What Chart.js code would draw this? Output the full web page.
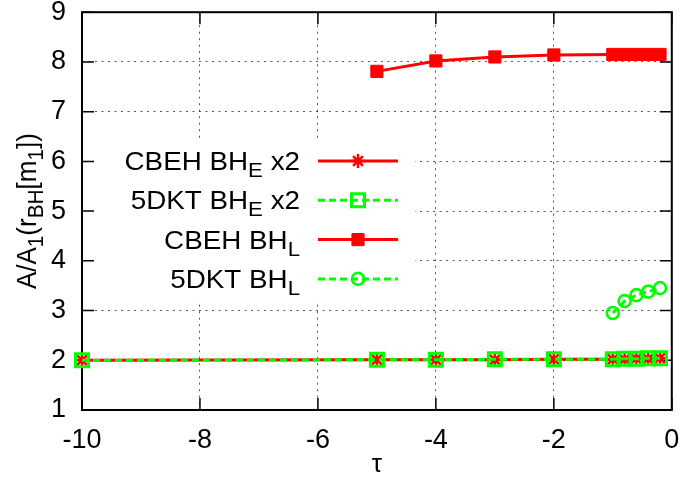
<!DOCTYPE html>
<html>
<head>
<meta charset="utf-8">
<script src="https://cdn.jsdelivr.net/npm/chart.js@4.4.0/dist/chart.umd.min.js"></script>
<style>
  html, body { margin: 0; padding: 0; background: #fff; }
  canvas { display: block; }
</style>
</head>
<body>
<canvas id="chart" width="684" height="484"></canvas>
<script>
// data
const tauE = [-10, -5, -4, -3, -2, -1, -0.8, -0.6, -0.4, -0.2];
const cbehE = [2.00, 2.01, 2.01, 2.01, 2.02, 2.02, 2.02, 2.03, 2.03, 2.04];
const dktE = [2.00, 2.01, 2.01, 2.02, 2.02, 2.02, 2.03, 2.03, 2.04, 2.04];

const tauCbehL = [-5, -4, -3, -2, -1, -0.8, -0.6, -0.4, -0.2];
const cbehL = [7.81, 8.02, 8.10, 8.14, 8.15, 8.15, 8.15, 8.15, 8.15];

const tauDktL = [-1, -0.8, -0.6, -0.4, -0.2];
const dktL = [2.95, 3.19, 3.31, 3.38, 3.45];

const xTicks = [-10, -8, -6, -4, -2, 0];
const yTicks = [1, 2, 3, 4, 5, 6, 7, 8, 9];

// text pieces: [text, isSubscript]
const legendLabels = [
    [['CBEH BH', false], ['E', true], [' x2', false]],
    [['5DKT BH', false], ['E', true], [' x2', false]],
    [['CBEH BH', false], ['L', true]],
    [['5DKT BH', false], ['L', true]]
];
const yTitle = [['A/A', false], ['1', true], ['(r', false], ['BH', true], ['[m', false], ['1', true], ['])', false]];
const xTitle = 'τ';

const FONT = '"Liberation Sans", Arial, Helvetica, sans-serif';
const SIZE = 26;
const STRETCH = 1.069; // the original text is a bit wider than it is tall
const RED = '#ff0000';
const GREEN = '#00ff00';

function pts(xs, ys) {
    return xs.map((x, i) => ({ x: x, y: ys[i] }));
}

const styles = [
    { color: RED, dash: [], pointStyle: 'star', radius: 7, pointBorder: 2.5, fill: RED },
    { color: GREEN, dash: [7, 4], pointStyle: 'rect', radius: 9.2, pointBorder: 3, fill: 'rgba(0,0,0,0)' },
    { color: RED, dash: [], pointStyle: 'rect', radius: 8.6, pointBorder: 1, fill: RED },
    { color: GREEN, dash: [7, 4], pointStyle: 'circle', radius: 6, pointBorder: 2.6, fill: 'rgba(0,0,0,0)' }
];
const series = [pts(tauE, cbehE), pts(tauE, dktE), pts(tauCbehL, cbehL), pts(tauDktL, dktL)];

function richWidth(ctx, parts) {
    let w = 0;
    parts.forEach(p => {
        ctx.font = (p[1] ? SIZE * 0.8 : SIZE) + 'px ' + FONT;
        w += ctx.measureText(p[0]).width;
    });
    return w;
}

// draws text with subscripts, sx/sy stretch the glyphs
function drawRich(ctx, parts, x, y, sx, sy) {
    ctx.save();
    ctx.translate(x, y);
    ctx.scale(sx, sy);
    ctx.textBaseline = 'alphabetic';
    ctx.textAlign = 'left';
    let cx = 0;
    parts.forEach(p => {
        ctx.font = (p[1] ? SIZE * 0.8 : SIZE) + 'px ' + FONT;
        ctx.fillText(p[0], cx, p[1] ? 7 : 0);
        cx += ctx.measureText(p[0]).width;
    });
    ctx.restore();
}

function marker(ctx, st, x, y) {
    ctx.save();
    ctx.setLineDash([]);
    ctx.strokeStyle = st.color;
    ctx.fillStyle = st.fill;
    ctx.lineWidth = st.pointBorder;
    Chart.helpers.drawPoint(ctx, { pointStyle: st.pointStyle, radius: st.radius, rotation: 0, borderWidth: st.pointBorder }, x, y);
    ctx.restore();
}

const frame = {
    id: 'frame',
    beforeDatasetsDraw(chart) {
        const { ctx, chartArea: a, scales } = chart;
        ctx.save();
        // opaque key area
        ctx.fillStyle = '#fff';
        ctx.fillRect(a.left, 138, 415 - a.left, 162);
        ctx.strokeStyle = '#000';
        ctx.lineWidth = 1.5;
        ctx.beginPath();
        xTicks.forEach(v => {
            const px = scales.x.getPixelForValue(v);
            ctx.moveTo(px, a.bottom); ctx.lineTo(px, a.bottom - 12);
            ctx.moveTo(px, a.top); ctx.lineTo(px, a.top + 12);
        });
        yTicks.forEach(v => {
            const py = scales.y.getPixelForValue(v);
            ctx.moveTo(a.left, py); ctx.lineTo(a.left + 12, py);
            ctx.moveTo(a.right, py); ctx.lineTo(a.right - 12, py);
        });
        ctx.stroke();
        ctx.lineWidth = 2;
        ctx.strokeRect(a.left, a.top, a.right - a.left, a.bottom - a.top);
        ctx.restore();
    },
    afterDraw(chart) {
        const { ctx, chartArea: a } = chart;
        ctx.save();
        ctx.fillStyle = '#000';
        legendLabels.forEach((parts, i) => {
            const rowY = 161 + i * 39.3;
            const w = richWidth(ctx, parts) * STRETCH;
            drawRich(ctx, parts, 300 - w, rowY + 9, STRETCH, 1);
            const st = styles[i];
            ctx.strokeStyle = st.color;
            ctx.lineWidth = 3;
            ctx.setLineDash(st.dash);
            ctx.beginPath();
            ctx.moveTo(318, rowY);
            ctx.lineTo(398, rowY);
            ctx.stroke();
            marker(ctx, st, 358, rowY);
            ctx.fillStyle = '#000';
        });
        // rotated y title
        ctx.translate(36, (a.top + a.bottom) / 2);
        ctx.rotate(-Math.PI / 2);
        const tw = richWidth(ctx, yTitle);
        drawRich(ctx, yTitle, -tw / 2, 0, 1, STRETCH);
        ctx.restore();
    }
};

new Chart(document.getElementById('chart'), {
    type: 'line',
    data: {
        datasets: series.map((d, i) => ({
            data: d,
            borderColor: styles[i].color,
            borderWidth: 3,
            borderDash: styles[i].dash,
            pointStyle: styles[i].pointStyle,
            pointRadius: styles[i].radius,
            pointBorderWidth: styles[i].pointBorder,
            pointBorderColor: styles[i].color,
            pointBackgroundColor: styles[i].fill,
            tension: 0,
            fill: false,
            clip: false,
            order: 4 - i
        }))
    },
    options: {
        responsive: false,
        animation: false,
        events: [],
        layout: { padding: { top: 12, right: 11, bottom: 0, left: 0 } },
        plugins: { legend: { display: false }, tooltip: { enabled: false } },
        scales: {
            x: {
                type: 'linear',
                min: -10,
                max: 0,
                afterBuildTicks: s => { s.ticks = xTicks.map(v => ({ value: v })); },
                afterFit: s => { s.height = 74; s.paddingLeft = 0; s.paddingRight = 0; },
                grid: { color: 'rgba(0,0,0,0.65)', lineWidth: 1, drawTicks: false },
                border: { display: false, dash: [2, 4.5] },
                ticks: { color: '#000', padding: 14, maxRotation: 0, autoSkip: false, font: { family: FONT, size: 27 } },
                title: { display: true, text: xTitle, color: '#000', padding: { top: 0, bottom: 4 }, font: { family: FONT, size: SIZE } }
            },
            y: {
                min: 1,
                max: 9,
                afterBuildTicks: s => { s.ticks = yTicks.map(v => ({ value: v })); },
                afterFit: s => { s.width = 82; s.paddingTop = 0; s.paddingBottom = 0; },
                grid: { color: 'rgba(0,0,0,0.65)', lineWidth: 1, drawTicks: false },
                border: { display: false, dash: [2, 4.5] },
                ticks: { color: '#000', padding: 16, autoSkip: false, font: { family: FONT, size: 27 } }
            }
        }
    },
    plugins: [frame]
});
</script>
</body>
</html>
